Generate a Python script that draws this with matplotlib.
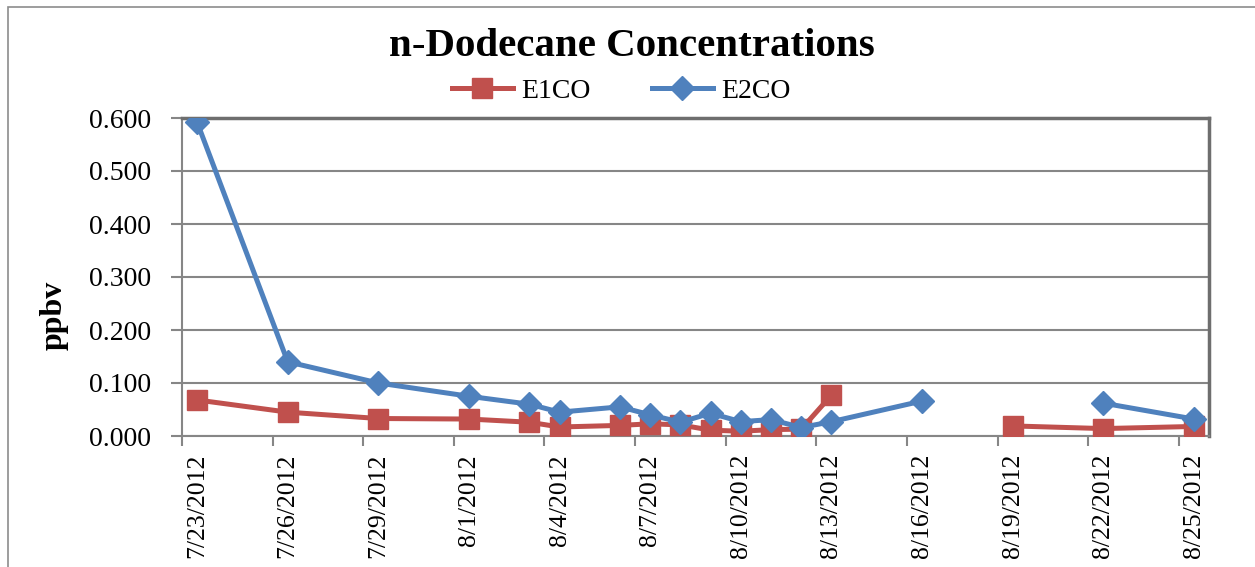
import datetime as dt
import numpy as np
import matplotlib
matplotlib.use("Agg")
import matplotlib.pyplot as plt
from matplotlib.patches import Rectangle

dates = ["7/23/2012", "7/26/2012", "7/29/2012", "8/1/2012", "8/3/2012", "8/4/2012",
         "8/6/2012", "8/7/2012", "8/8/2012", "8/9/2012", "8/10/2012", "8/11/2012",
         "8/12/2012", "8/13/2012", "8/16/2012", "8/19/2012", "8/22/2012", "8/25/2012"]
nan = np.nan
e1co = [0.068, 0.045, 0.033, 0.032, 0.026, 0.017, 0.020, 0.023, 0.021, 0.011,
        0.009, 0.012, 0.013, 0.077, nan, 0.019, 0.014, 0.018]
e2co = [0.592, 0.140, 0.100, 0.075, 0.060, 0.045, 0.055, 0.040, 0.026, 0.043,
        0.027, 0.031, 0.016, 0.027, 0.066, nan, 0.062, 0.032]
yticks = [0.0, 0.1, 0.2, 0.3, 0.4, 0.5, 0.6]

RED = "#C0504D"
BLUE = "#4F81BD"
GRID = "#868686"

plt.rcParams["font.family"] = ["Liberation Serif", "DejaVu Serif"]

start = dt.datetime.strptime(dates[0], "%m/%d/%Y")
days = np.array([(dt.datetime.strptime(d, "%m/%d/%Y") - start).days for d in dates])
n_days = 34

fig = plt.figure(figsize=(12.55, 5.67), dpi=100)
ax = fig.add_axes([182 / 1255, 1 - 436 / 567, (1209 - 182) / 1255, (436 - 118) / 567])

# outer chart frame (cropped on right and bottom)
fig.patches.append(Rectangle((8 / 1255, -0.1), 1.2, 1 - 7 / 567 + 0.1, transform=fig.transFigure,
                             fill=False, edgecolor="#8C8C8C", linewidth=1.2, zorder=0))

ax.plot(days, e1co, color=RED, lw=3.6, marker="s", ms=14, label="E1CO", zorder=3)
ax.plot(days, e2co, color=BLUE, lw=3.6, marker="D", ms=12, label="E2CO", zorder=4)

ax.set_xlim(-0.5, n_days - 0.5)
ax.set_ylim(0, 0.6)
ax.set_yticks(yticks)
ax.set_yticklabels([f"{v:.3f}" for v in yticks], fontsize=20)
ax.yaxis.grid(True, color=GRID, lw=1.5)
ax.set_axisbelow(True)

# ticks at slot boundaries, labels at day centers
major = np.arange(-0.5, n_days - 0.5, 3)
ax.set_xticks(major)
ax.set_xticklabels([])
ax.tick_params(axis="x", which="major", length=7, width=1.5, color=GRID)
label_days = np.arange(0, n_days, 3)
ax.set_xticks(label_days, minor=True)
ax.set_xticklabels([(start + dt.timedelta(days=int(d))).strftime("%-m/%-d/%Y") for d in label_days],
                   minor=True, rotation=90, fontsize=18.5)
ax.tick_params(axis="x", which="minor", length=0, pad=13)
ax.tick_params(axis="y", length=8, width=1.5, color=GRID, pad=14)

for s in ["left", "bottom", "right", "top"]:
    ax.spines[s].set_color(GRID)
    ax.spines[s].set_linewidth(1.5)
ax.spines["right"].set_linewidth(2.5)
ax.spines["top"].set_linewidth(2.5)
ax.spines["right"].set_color("#6E6E6E")
ax.spines["top"].set_color("#6E6E6E")

ax.set_ylabel("ppbv", fontsize=23, fontweight="bold")
ax.yaxis.set_label_coords(-113 / 1027, (436 - 315) / 318)

fig.text(632 / 1255, 1 - 47 / 567, "n-Dodecane Concentrations", ha="center", va="center",
         fontsize=29.5, fontweight="bold")
fig.legend(loc="center", bbox_to_anchor=(621 / 1255, 1 - 91 / 567), ncol=2, frameon=False,
           fontsize=20, handlelength=2.2, handletextpad=0.3, columnspacing=2.2,
           borderpad=0, borderaxespad=0)

fig.savefig("out.png", dpi=100)
